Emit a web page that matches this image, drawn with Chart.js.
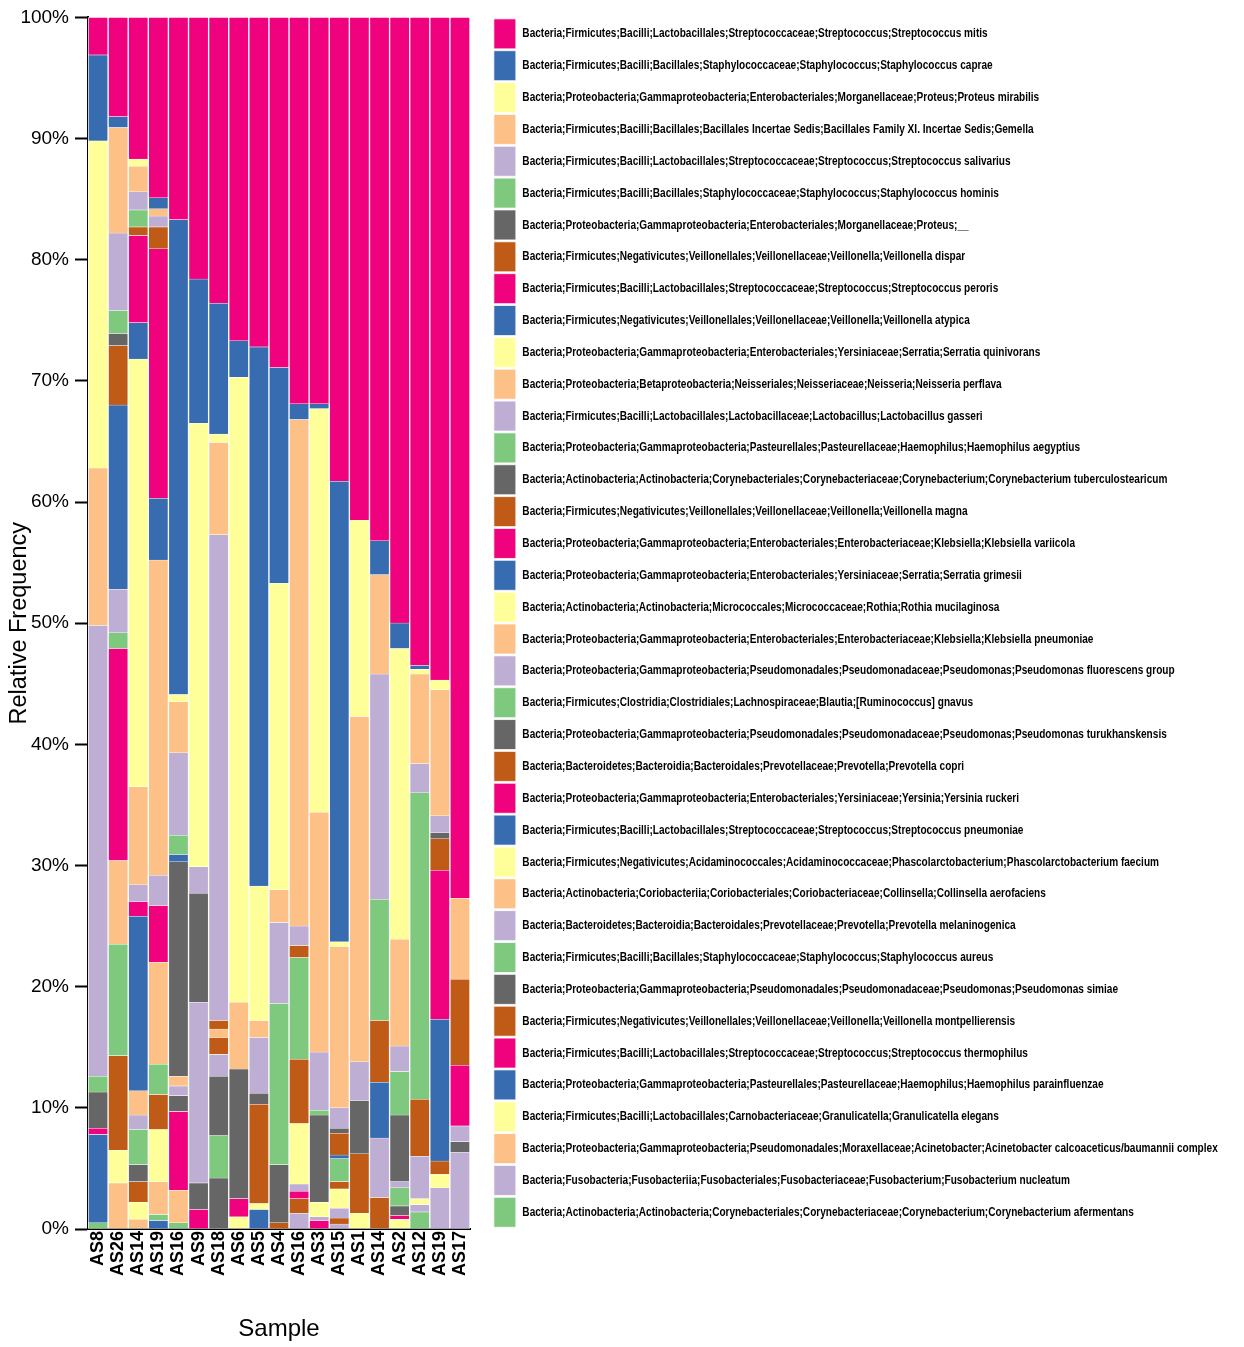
<!DOCTYPE html>
<html>
<head>
<meta charset="utf-8">
<title>Relative Frequency by Sample</title>
<script src="https://cdn.jsdelivr.net/npm/chart.js@4.4.1/dist/chart.umd.min.js"></script>
<style>
  html, body { margin: 0; padding: 0; background: #fff; }
  #wrap { width: 1244px; height: 1347px; position: relative; }
</style>
</head>
<body>
<div id="wrap"><canvas id="chart"></canvas></div>
<script>
// Samples (x axis)
const samples = ['AS8', 'AS26', 'AS14', 'AS19', 'AS16', 'AS9', 'AS18', 'AS6', 'AS5', 'AS4',
                 'AS16', 'AS3', 'AS15', 'AS1', 'AS14', 'AS2', 'AS12', 'AS19', 'AS17'];

// Taxa, in legend order (first one sits on top of each bar)
const taxa = [
  'Bacteria;Firmicutes;Bacilli;Lactobacillales;Streptococcaceae;Streptococcus;Streptococcus mitis',
  'Bacteria;Firmicutes;Bacilli;Bacillales;Staphylococcaceae;Staphylococcus;Staphylococcus caprae',
  'Bacteria;Proteobacteria;Gammaproteobacteria;Enterobacteriales;Morganellaceae;Proteus;Proteus mirabilis',
  'Bacteria;Firmicutes;Bacilli;Bacillales;Bacillales Incertae Sedis;Bacillales Family XI. Incertae Sedis;Gemella',
  'Bacteria;Firmicutes;Bacilli;Lactobacillales;Streptococcaceae;Streptococcus;Streptococcus salivarius',
  'Bacteria;Firmicutes;Bacilli;Bacillales;Staphylococcaceae;Staphylococcus;Staphylococcus hominis',
  'Bacteria;Proteobacteria;Gammaproteobacteria;Enterobacteriales;Morganellaceae;Proteus;__',
  'Bacteria;Firmicutes;Negativicutes;Veillonellales;Veillonellaceae;Veillonella;Veillonella dispar',
  'Bacteria;Firmicutes;Bacilli;Lactobacillales;Streptococcaceae;Streptococcus;Streptococcus peroris',
  'Bacteria;Firmicutes;Negativicutes;Veillonellales;Veillonellaceae;Veillonella;Veillonella atypica',
  'Bacteria;Proteobacteria;Gammaproteobacteria;Enterobacteriales;Yersiniaceae;Serratia;Serratia quinivorans',
  'Bacteria;Proteobacteria;Betaproteobacteria;Neisseriales;Neisseriaceae;Neisseria;Neisseria perflava',
  'Bacteria;Firmicutes;Bacilli;Lactobacillales;Lactobacillaceae;Lactobacillus;Lactobacillus gasseri',
  'Bacteria;Proteobacteria;Gammaproteobacteria;Pasteurellales;Pasteurellaceae;Haemophilus;Haemophilus aegyptius',
  'Bacteria;Actinobacteria;Actinobacteria;Corynebacteriales;Corynebacteriaceae;Corynebacterium;Corynebacterium tuberculostearicum',
  'Bacteria;Firmicutes;Negativicutes;Veillonellales;Veillonellaceae;Veillonella;Veillonella magna',
  'Bacteria;Proteobacteria;Gammaproteobacteria;Enterobacteriales;Enterobacteriaceae;Klebsiella;Klebsiella variicola',
  'Bacteria;Proteobacteria;Gammaproteobacteria;Enterobacteriales;Yersiniaceae;Serratia;Serratia grimesii',
  'Bacteria;Actinobacteria;Actinobacteria;Micrococcales;Micrococcaceae;Rothia;Rothia mucilaginosa',
  'Bacteria;Proteobacteria;Gammaproteobacteria;Enterobacteriales;Enterobacteriaceae;Klebsiella;Klebsiella pneumoniae',
  'Bacteria;Proteobacteria;Gammaproteobacteria;Pseudomonadales;Pseudomonadaceae;Pseudomonas;Pseudomonas fluorescens group',
  'Bacteria;Firmicutes;Clostridia;Clostridiales;Lachnospiraceae;Blautia;[Ruminococcus] gnavus',
  'Bacteria;Proteobacteria;Gammaproteobacteria;Pseudomonadales;Pseudomonadaceae;Pseudomonas;Pseudomonas turukhanskensis',
  'Bacteria;Bacteroidetes;Bacteroidia;Bacteroidales;Prevotellaceae;Prevotella;Prevotella copri',
  'Bacteria;Proteobacteria;Gammaproteobacteria;Enterobacteriales;Yersiniaceae;Yersinia;Yersinia ruckeri',
  'Bacteria;Firmicutes;Bacilli;Lactobacillales;Streptococcaceae;Streptococcus;Streptococcus pneumoniae',
  'Bacteria;Firmicutes;Negativicutes;Acidaminococcales;Acidaminococcaceae;Phascolarctobacterium;Phascolarctobacterium faecium',
  'Bacteria;Actinobacteria;Coriobacteriia;Coriobacteriales;Coriobacteriaceae;Collinsella;Collinsella aerofaciens',
  'Bacteria;Bacteroidetes;Bacteroidia;Bacteroidales;Prevotellaceae;Prevotella;Prevotella melaninogenica',
  'Bacteria;Firmicutes;Bacilli;Bacillales;Staphylococcaceae;Staphylococcus;Staphylococcus aureus',
  'Bacteria;Proteobacteria;Gammaproteobacteria;Pseudomonadales;Pseudomonadaceae;Pseudomonas;Pseudomonas simiae',
  'Bacteria;Firmicutes;Negativicutes;Veillonellales;Veillonellaceae;Veillonella;Veillonella montpellierensis',
  'Bacteria;Firmicutes;Bacilli;Lactobacillales;Streptococcaceae;Streptococcus;Streptococcus thermophilus',
  'Bacteria;Proteobacteria;Gammaproteobacteria;Pasteurellales;Pasteurellaceae;Haemophilus;Haemophilus parainfluenzae',
  'Bacteria;Firmicutes;Bacilli;Lactobacillales;Carnobacteriaceae;Granulicatella;Granulicatella elegans',
  'Bacteria;Proteobacteria;Gammaproteobacteria;Pseudomonadales;Moraxellaceae;Acinetobacter;Acinetobacter calcoaceticus/baumannii complex',
  'Bacteria;Fusobacteria;Fusobacteriia;Fusobacteriales;Fusobacteriaceae;Fusobacterium;Fusobacterium nucleatum',
  'Bacteria;Actinobacteria;Actinobacteria;Corynebacteriales;Corynebacteriaceae;Corynebacterium;Corynebacterium afermentans'
];

// Relative frequency (%) of each taxon, one value per sample
const abundance = [
  [3.1, 8.2, 11.7, 14.9, 16.7, 21.6, 23.6, 26.7, 27.2, 28.9, 31.9, 31.9, 38.3, 41.5, 43.2, 50.0, 53.5, 54.7, 72.7],
  [7.1, 0.9, 0, 0.9, 39.2, 11.9, 10.8, 3.0, 44.5, 17.8, 1.3, 0.4, 38.0, 0, 2.8, 2.1, 0.3, 0, 0],
  [27.0, 0, 0.6, 0, 0.6, 36.6, 0.7, 51.6, 11.1, 25.3, 0, 33.3, 0.4, 16.2, 0, 24.0, 0.4, 0.8, 0],
  [13.0, 8.7, 2.1, 0.6, 4.2, 0, 7.6, 5.5, 1.4, 2.7, 41.8, 19.8, 13.3, 28.5, 8.2, 8.8, 7.4, 10.4, 6.7],
  [37.2, 6.4, 1.5, 0.9, 6.8, 2.2, 40.1, 0, 4.6, 6.7, 1.6, 4.8, 1.7, 3.2, 18.6, 2.1, 2.4, 1.4, 0],
  [1.3, 1.9, 1.4, 0, 1.6, 0, 0, 0, 0, 13.3, 0, 0.4, 0, 0, 10.0, 3.6, 25.3, 0, 0],
  [3.0, 1.0, 0, 0, 0, 9.0, 0, 10.7, 0.9, 4.8, 0, 7.2, 0.4, 4.4, 0, 5.5, 0, 0.5, 0],
  [0, 4.9, 0.7, 1.8, 0, 0, 0.7, 0, 8.2, 0.5, 1.0, 0, 1.8, 4.9, 5.1, 0, 4.7, 2.6, 7.1],
  [0.5, 0, 7.2, 20.6, 0, 0, 0, 1.5, 0, 0, 0, 0, 0, 0, 0, 0, 0, 12.3, 5.0],
  [7.3, 15.2, 3.0, 5.1, 0.6, 0, 0, 0, 0, 0, 0, 0, 0.3, 0, 4.6, 0, 0, 11.7, 0],
  [0, 0, 35.3, 0, 0, 0, 0, 1.0, 0.5, 0, 0, 1.2, 0, 1.3, 0, 0, 0, 0, 0],
  [0, 0, 8.1, 26.0, 0, 0, 0.7, 0, 0, 0, 0, 0, 0, 0, 0, 0, 0, 0, 0],
  [0, 3.6, 1.4, 2.5, 0, 14.9, 0, 0, 0, 0, 0, 0.3, 0, 0, 4.9, 0.5, 3.5, 0, 1.3],
  [0.5, 1.3, 0, 0, 0, 0, 0, 0, 0, 0, 8.4, 0, 1.9, 0, 0, 1.5, 0, 0, 0],
  [0, 0, 0, 0, 17.7, 2.2, 0, 0, 0, 0, 0, 0, 0, 0, 0, 0.8, 0, 0, 0.9],
  [0, 0, 0, 0, 0, 0, 1.4, 0, 0, 0, 5.3, 0, 0.6, 0, 2.6, 0, 0, 1.1, 0],
  [0, 17.5, 1.2, 4.7, 0, 1.6, 0, 0, 0, 0, 0, 0.7, 0, 0, 0, 0.3, 0, 0, 0],
  [0, 0, 14.4, 0, 0, 0, 0, 0, 1.6, 0, 0, 0, 0, 0, 0, 0, 0, 0, 0],
  [0, 0, 0, 0, 0, 0, 0, 0, 0, 0, 5.0, 0, 1.6, 0, 0, 0.8, 0.5, 1.1, 0],
  [0, 6.9, 2.0, 8.4, 0.8, 0, 0, 0, 0, 0, 0, 0, 0, 0, 0, 0, 0, 0, 0],
  [0, 0, 1.2, 0, 0.8, 0, 1.8, 0, 0, 0, 0.6, 0, 0.8, 0, 0, 0, 0.6, 3.4, 6.3],
  [0, 9.2, 2.9, 2.5, 0, 0, 0, 0, 0, 0, 0, 0, 0, 0, 0, 0, 1.4, 0, 0],
  [0, 0, 1.4, 0, 1.3, 0, 4.9, 0, 0, 0, 0, 0, 0, 0, 0, 0, 0, 0, 0],
  [0, 7.8, 1.7, 2.9, 0, 0, 0, 0, 0, 0, 0, 0, 0.5, 0, 0, 0, 0, 0, 0],
  [0, 0, 0, 0, 6.5, 0, 0, 0, 0, 0, 0.6, 0, 0, 0, 0, 0, 0, 0, 0],
  [0, 0, 0, 0, 0, 0, 0, 0, 0, 0, 0, 0, 0, 0, 0, 0, 0, 0, 0],
  [0, 2.7, 1.4, 4.3, 0, 0, 0, 0, 0, 0, 0, 0, 0, 0, 0, 0, 0, 0, 0],
  [0, 3.8, 0.8, 2.7, 2.7, 0, 0, 0, 0, 0, 0, 0, 0, 0, 0, 0, 0, 0, 0],
  [0, 0, 0, 0, 0, 0, 0, 0, 0, 0, 0, 0, 0.4, 0, 0, 0, 0, 0, 0],
  [0, 0, 0, 0.5, 0.5, 0, 3.5, 0, 0, 0, 0, 0, 0, 0, 0, 0, 0, 0, 0],
  [0, 0, 0, 0, 0, 0, 4.2, 0, 0, 0, 0, 0, 0, 0, 0, 0, 0, 0, 0],
  [0, 0, 0, 0, 0, 0, 0, 0, 0, 0, 1.2, 0, 0, 0, 0, 0, 0, 0, 0],
  [0, 0, 0, 0, 0, 0, 0, 0, 0, 0, 0, 0, 0, 0, 0, 0, 0, 0, 0],
  [0, 0, 0, 0.7, 0, 0, 0, 0, 0, 0, 0, 0, 0, 0, 0, 0, 0, 0, 0],
  [0, 0, 0, 0, 0, 0, 0, 0, 0, 0, 0, 0, 0, 0, 0, 0, 0, 0, 0],
  [0, 0, 0, 0, 0, 0, 0, 0, 0, 0, 0, 0, 0, 0, 0, 0, 0, 0, 0],
  [0, 0, 0, 0, 0, 0, 0, 0, 0, 0, 1.3, 0, 0, 0, 0, 0, 0, 0, 0],
  [0, 0, 0, 0, 0, 0, 0, 0, 0, 0, 0, 0, 0, 0, 0, 0, 0, 0, 0]
];

const yTicks = [0, 10, 20, 30, 40, 50, 60, 70, 80, 90, 100];

// Accent-like palette, repeating every 8 taxa
const palette = ['#f0027f', '#386cb0', '#ffff99', '#fdc086', '#beaed4', '#7fc97f', '#666666', '#bf5b17'];

Chart.defaults.font.family = "'Liberation Sans', Arial, sans-serif";
Chart.defaults.color = '#000';

// datasets are stacked bottom-up, so reverse them (taxa[0] ends on top)
const datasets = taxa.map((name, i) => ({
  label: name,
  data: abundance[i],
  backgroundColor: palette[i % palette.length],
  borderColor: '#ffffff',
  borderWidth: { top: 0.5, bottom: 0.5, left: 1, right: 1 },
  borderSkipped: false,
  barPercentage: 1,
  categoryPercentage: 1
})).reverse();

// fixed legend width so the plot area matches the original,
// and horizontally condensed legend text like the source figure
const LEGEND_SQUEEZE = 0.775;
const fixedLegend = {
  id: 'fixedLegend',
  beforeLayout(chart) {
    const lg = chart.legend;
    if (!lg || lg._fixed) return;
    const fit = lg.fit;
    lg.fit = function () { fit.call(this); this.width = 752; };
    const draw = lg.draw;
    lg.draw = function () {
      const ctx = this.ctx;
      const fillText = ctx.fillText;
      ctx.fillText = function (text, x, y) {
        this.save();
        this.translate(x, y);
        this.scale(LEGEND_SQUEEZE, 1);
        fillText.call(this, text, 0, 0);
        this.restore();
      };
      try { draw.call(this); } finally { ctx.fillText = fillText; }
    };
    lg._fixed = true;
  }
};

new Chart(document.getElementById('chart'), {
  type: 'bar',
  data: { labels: samples, datasets: datasets },
  options: {
    responsive: true,
    maintainAspectRatio: false,
    animation: false,
    devicePixelRatio: 1,
    layout: { padding: { top: 17, left: 0, right: 0, bottom: 0 } },
    plugins: {
      tooltip: { enabled: false },
      legend: {
        position: 'right',
        align: 'start',
        reverse: true,
        labels: {
          boxWidth: 22,
          boxHeight: 30,
          padding: 1.85,
          color: '#000',
          font: { family: "'Liberation Sans', Arial, sans-serif", size: 13, weight: 'bold' }
        }
      }
    },
    scales: {
      x: {
        stacked: true,
        grid: { display: false, drawTicks: false },
        border: { display: true, color: '#000', width: 2 },
        ticks: {
          autoSkip: false,
          minRotation: 90,
          maxRotation: 90,
          padding: 2,
          font: { size: 18, weight: 'bold' }
        },
        title: { display: true, text: 'Sample', font: { size: 24 }, padding: { top: 4, bottom: 3 } },
        afterFit(s) { s.height = 118; }
      },
      y: {
        stacked: true,
        min: 0,
        max: 100,
        afterBuildTicks(s) { s.ticks = yTicks.map(v => ({ value: v })); },
        ticks: { callback: v => v + '%', font: { size: 19 }, padding: 6 },
        grid: { display: true, drawOnChartArea: false, drawTicks: true, tickLength: 13, tickWidth: 2, tickColor: '#000' },
        border: { display: true, color: '#000', width: 2 },
        title: { display: true, text: 'Relative Frequency', font: { size: 23.5 }, padding: { top: 5, bottom: 4 } },
        afterFit(s) { s.width = 88; }
      },
      // empty spacer between the bars and the legend
      gap: {
        position: 'right',
        grid: { display: false, drawTicks: false },
        border: { display: false },
        ticks: { display: false },
        afterFit(s) { s.width = 22; }
      }
    }
  },
  plugins: [fixedLegend]
});
</script>
</body>
</html>
